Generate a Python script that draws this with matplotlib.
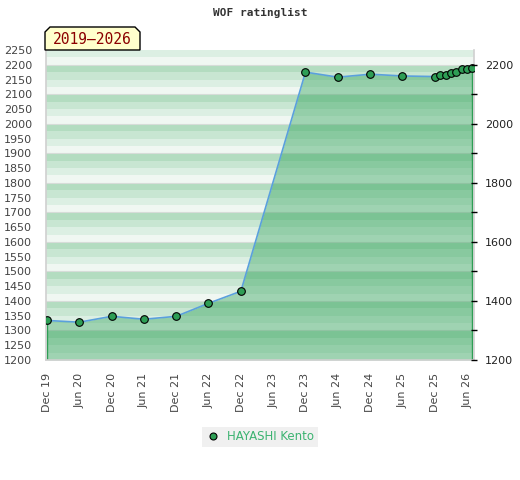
import matplotlib
matplotlib.use("Agg")
import matplotlib.pyplot as plt
import matplotlib.dates as mdates
import matplotlib.patches as mpatches
import pandas as pd
import numpy as np

# ---- data ----
dates = ["2019-12-01", "2020-06-01", "2020-12-01", "2021-06-01", "2021-12-01",
         "2022-06-01", "2022-12-01", "2023-12-01", "2024-06-01", "2024-12-01",
         "2025-06-01", "2025-12-01", "2026-01-01", "2026-02-01", "2026-03-01",
         "2026-04-01", "2026-05-01", "2026-06-01", "2026-07-01"]
ratings = [1334, 1328, 1348, 1338, 1348, 1392, 1433, 2175, 2158, 2168,
           2162, 2160, 2167, 2165, 2172, 2176, 2184, 2187, 2188]
tick_dates = ["2019-12-01", "2020-06-01", "2020-12-01", "2021-06-01", "2021-12-01",
              "2022-06-01", "2022-12-01", "2023-06-01", "2023-12-01", "2024-06-01",
              "2024-12-01", "2025-06-01", "2025-12-01", "2026-06-01"]
tick_labels = ["Dec 19", "Jun 20", "Dec 20", "Jun 21", "Dec 21", "Jun 22", "Dec 22",
               "Jun 23", "Dec 23", "Jun 24", "Dec 24", "Jun 25", "Dec 25", "Jun 26"]
player = "HAYASHI Kento"
title = "WOF ratinglist"
period = "2019\u20132026"
ymin, ymax = 1200, 2250

x = pd.to_datetime(dates)
xt = pd.to_datetime(tick_dates)

fig = plt.figure(figsize=(5.2, 4.8), dpi=100)
ax = fig.add_axes([46/520, 1-360/480, (474-46)/520, (360-50)/480])

# striped background
band_cols = {0: "#f0f7f2", 25: "#dcefe3", 50: "#c8e6d2", 75: "#b3dcc0"}
for lo in range(ymin, ymax, 25):
    ax.axhspan(lo, lo+25, color=band_cols[lo % 100], lw=0, zorder=0)
for g in range(ymin+100, ymax, 100):
    ax.axhline(g, color="#d6dcd8", lw=0.8, zorder=0.5)

# fill
ax.fill_between(x, ratings, ymin, color="#2da157", alpha=0.41, lw=0, zorder=1)
ax.plot([x[0], x[0]], [ymin, ratings[0]], color="#2e9e55", lw=1, zorder=2)
ax.plot([x[-1], x[-1]], [ymin, ratings[-1]], color="#2e9e55", lw=1, zorder=2)
ax.plot(x, ratings, color="#5aa0dc", lw=1.2, zorder=3)
ax.plot(x, ratings, ls="none", marker="o", ms=5.5, mfc="#2e9e55", mec="black",
        mew=0.8, zorder=4)

ax.set_ylim(ymin, ymax)
ax.set_xlim(pd.Timestamp("2019-11-26"), pd.Timestamp("2026-07-10"))
ax.set_yticks(range(ymin, ymax+1, 50))
ax.tick_params(axis="y", length=0, pad=10, labelsize=8, labelcolor="#444444")
ax.set_xticks(xt)
ax.set_xticklabels(tick_labels, rotation=90)
ax.tick_params(axis="x", length=0, pad=9, labelsize=8, labelcolor="#444444")
for s in ["top"]:
    ax.spines[s].set_visible(False)
for s in ["left", "bottom", "right"]:
    ax.spines[s].set_color("#d0d0d0")
    ax.spines[s].set_linewidth(1.2)

ax2 = ax.twinx()
ax2.set_ylim(ymin, ymax)
ax2.set_yticks(range(ymin, 2201, 200))
ax2.set_yticks(range(ymin+100, 2201, 200), minor=True)
ax2.tick_params(axis="y", which="both", length=4, width=1, color="black",
                labelsize=8, labelcolor="#222222", direction="inout", pad=6)
for s in ["top", "left", "bottom", "right"]:
    ax2.spines[s].set_visible(False)

# title
fig.text(260/520, 1-13/480, title, ha="center", va="center",
         family="DejaVu Sans Mono", weight="bold", fontsize=8, color="#333333")

# period box with chamfered top corners
x0, x1, y0, y1, c = 45, 140, 27, 50, 5
pts = [(x0, y1), (x0, y0+c), (x0+c, y0), (x1-c, y0), (x1, y0+c), (x1, y1)]
pts = [(px/520, 1-py/480) for px, py in pts]
fig.patches.append(mpatches.Polygon(pts, closed=True, transform=fig.transFigure,
                                    fc="#ffffcc", ec="black", lw=1, zorder=5))
fig.text((x0+x1)/2/520, 1-39/480, period, ha="center", va="center",
         family="DejaVu Sans Mono", fontsize=10.5, color="#8b0000", zorder=6)

# legend
fig.patches.append(mpatches.Rectangle((202/520, 1-447/480), 116/520, 20/480,
                                      transform=fig.transFigure, fc="#f0f0f0",
                                      ec="none", zorder=5))
fig.lines.append(plt.Line2D([213/520], [1-436/480], transform=fig.transFigure,
                            marker="o", ms=5, mfc="#2e9e55", mec="black", mew=0.8,
                            ls="none", zorder=6))
fig.text(227/520, 1-436/480, player, ha="left", va="center", fontsize=8.5,
         color="#3cb371", zorder=6)

fig.savefig("out.png", dpi=100)
